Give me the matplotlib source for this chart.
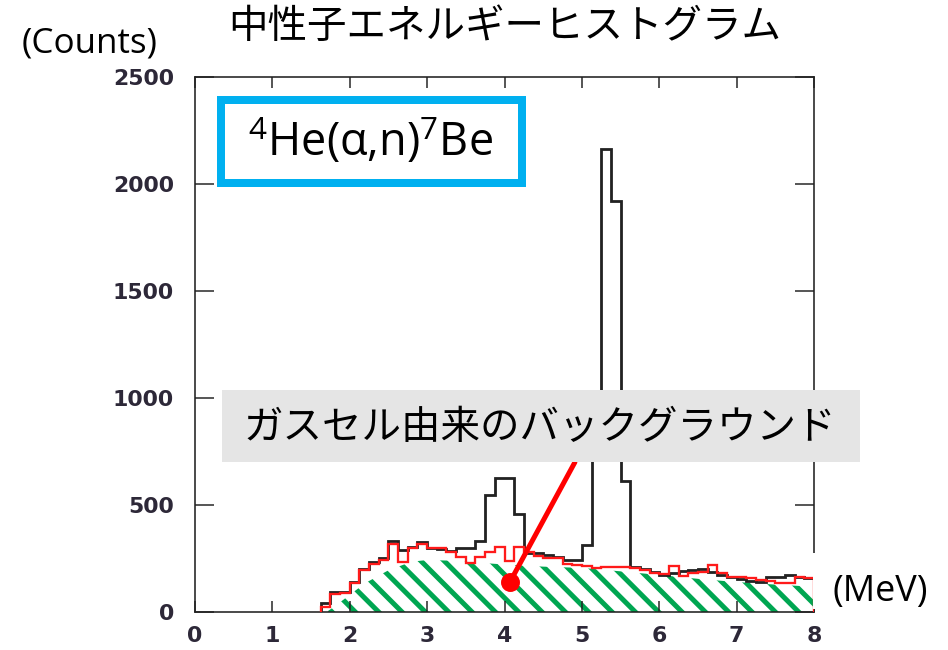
import numpy as np
import matplotlib
matplotlib.use("Agg")
import matplotlib.pyplot as plt
from matplotlib.patches import Rectangle

# neutron energy bins (MeV), lower edges, 0.125 MeV wide
bin_lo = np.arange(1.625, 8.0, 0.125)
bin_edges = np.append(bin_lo, 8.0)

# 4He(a,n)7Be run
counts_total = [40, 92, 95, 142, 200, 235, 251, 332, 290, 302,
                328, 301, 295, 287, 298, 300, 330, 545, 628, 628,
                458, 276, 274, 268, 258, 245, 243, 313, 860, 2162,
                1920, 612, 210, 199, 188, 175, 180, 193, 196, 199,
                188, 173, 162, 152, 146, 141, 165, 165, 173, 162,
                157]
# empty gas cell run
counts_gascell = [25, 85, 90, 135, 195, 225, 245, 320, 235, 300,
                  320, 300, 298, 282, 255, 228, 258, 282, 302, 240,
                  302, 280, 262, 251, 251, 224, 220, 215, 204, 209,
                  212, 209, 204, 196, 184, 177, 215, 168, 181, 188,
                  220, 184, 165, 162, 157, 150, 146, 137, 137, 165,
                  157]

# smoothed gas cell background shape
bg_e = [1.7, 1.8, 2.0, 2.2, 2.5, 2.8, 3.0, 3.3, 3.6, 4.0, 4.5, 5.0,
        5.5, 6.0, 6.5, 7.0, 7.5, 8.0]
bg_counts = [0, 25, 80, 135, 195, 235, 243, 240, 232, 222, 212, 206,
             190, 173, 155, 140, 128, 118]

xticks = [0, 1, 2, 3, 4, 5, 6, 7, 8]
yticks = [0, 500, 1000, 1500, 2000, 2500]

DPI = 140
W, H = 948, 650


def pt(px):
    return px * 72.0 / DPI


def fx(px):
    return px / W


def fy(px):
    return 1 - px / H


plt.rcParams['font.family'] = ['Open Sans', 'DejaVu Sans']
plt.rcParams['mathtext.fontset'] = 'custom'
plt.rcParams['mathtext.rm'] = 'Open Sans'
plt.rcParams['hatch.linewidth'] = pt(5)
jp = ['Noto Sans CJK JP', 'DejaVu Sans']

fig = plt.figure(figsize=(W / DPI, H / DPI), dpi=DPI)
ax = fig.add_axes([fx(195), fy(612), (814 - 195) / W, (612 - 77) / H])

# background area, green stripes
ax.fill_between(bg_e, 0, bg_counts, facecolor='white', edgecolor='#00a651',
                hatch='\\\\', linewidth=0, zorder=1)

ax.stairs(counts_total, bin_edges, baseline=0, color='#222222',
          linewidth=pt(2.8), zorder=3)
ax.stairs(counts_gascell, bin_edges, baseline=0, color='#ff1a1a',
          linewidth=pt(2.3), zorder=4)

# pointer from the label to the background area
ax.plot([4.91, 4.07], [700, 140], color='red', linewidth=pt(5),
        solid_capstyle='round', zorder=5, clip_on=False)
ax.plot([4.07], [140], 'o', color='red', markersize=pt(17), zorder=6)

ax.set_xlim(0, 8)
ax.set_ylim(0, 2500)
ax.set_xticks(xticks)
ax.set_yticks(yticks)
for sp in ax.spines.values():
    sp.set_linewidth(pt(1.6))
    sp.set_color('#222222')

tick_font = dict(family='DejaVu Sans', weight='bold', size=pt(22))
ax.tick_params(axis='x', direction='in', top=True, length=pt(11),
               width=pt(1.5), pad=pt(14), colors='#222222',
               labelcolor='#2d2838')
ax.tick_params(axis='y', direction='in', right=True, length=pt(19),
               width=pt(1.5), pad=pt(21), colors='#222222',
               labelcolor='#2d2838')
for lab in ax.get_xticklabels() + ax.get_yticklabels():
    lab.set_fontproperties(matplotlib.font_manager.FontProperties(**tick_font))

fig.text(fx(505), fy(27), '中性子エネルギーヒストグラム', family=jp,
         size=pt(39.5), ha='center', va='center')
fig.text(fx(90), fy(44), '(Counts)', size=pt(35), ha='center', va='center')

# (MeV) sits on a white patch over the lower right corner
fig.add_artist(Rectangle((fx(813), fy(609)), (W - 813) / W, 56 / H,
                         transform=fig.transFigure, facecolor='white',
                         edgecolor='none'))
fig.text(fx(880), fy(592), '(MeV)', size=pt(36), ha='center', va='center')

# reaction box
fig.add_artist(Rectangle((fx(221), fy(183)), 301 / W, 83 / H,
                         transform=fig.transFigure, facecolor='white',
                         edgecolor='#00b0f0', linewidth=pt(8)))
fig.text(fx(370), fy(142), r'$^{4}$He(α,n)$^{7}$Be', size=pt(45),
         ha='center', va='center')

# background label
fig.add_artist(Rectangle((fx(222), fy(462)), 638 / W, 72 / H,
                         transform=fig.transFigure, facecolor='#e5e5e5',
                         edgecolor='none'))
fig.text(fx(540), fy(428), 'ガスセル由来のバックグラウンド', family=jp,
         size=pt(39.5), ha='center', va='center')

fig.savefig('out.png', dpi=DPI)
